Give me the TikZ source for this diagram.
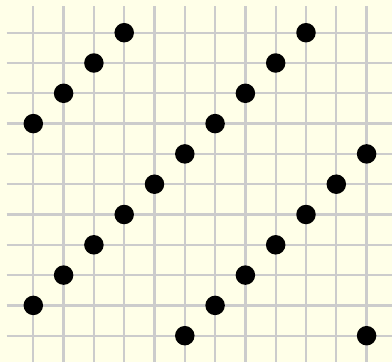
\documentclass[tikz,border=0pt]{standalone}
\definecolor{bg}{HTML}{FFFFE8}
\definecolor{gridc}{HTML}{CCCCCC}
\tikzset{dot/.style={circle,fill=black,inner sep=0pt,minimum size=19.5pt},
gridline/.style={draw=gridc,line width=2.3pt}}
\begin{document}
\begin{tikzpicture}[x=1pt,y=1pt]
\fill[bg] (0,0) rectangle (392,-362);
\useasboundingbox (0,0) rectangle (392,-362);
\begin{scope}[shift={(33.3,-32.7)},x=30.3pt,y=-30.3pt]
\foreach \i in {0,...,11} \draw[gridline] (\i,-0.88) -- (\i,10.98);
\foreach \j in {0,...,10} \draw[gridline] (-0.88,\j) -- (11.95,\j);
\foreach \i/\j [count=\n] in {3/0,2/1,1/2,0/3,0/9,1/8,2/7,3/6,4/5,5/4,6/3,7/2,8/1,9/0,5/10,6/9,7/8,8/7,9/6,10/5,11/4,11/10}
  \node[dot] (d\n) at (\i,\j) {};
\end{scope}
\end{tikzpicture}
\end{document}
